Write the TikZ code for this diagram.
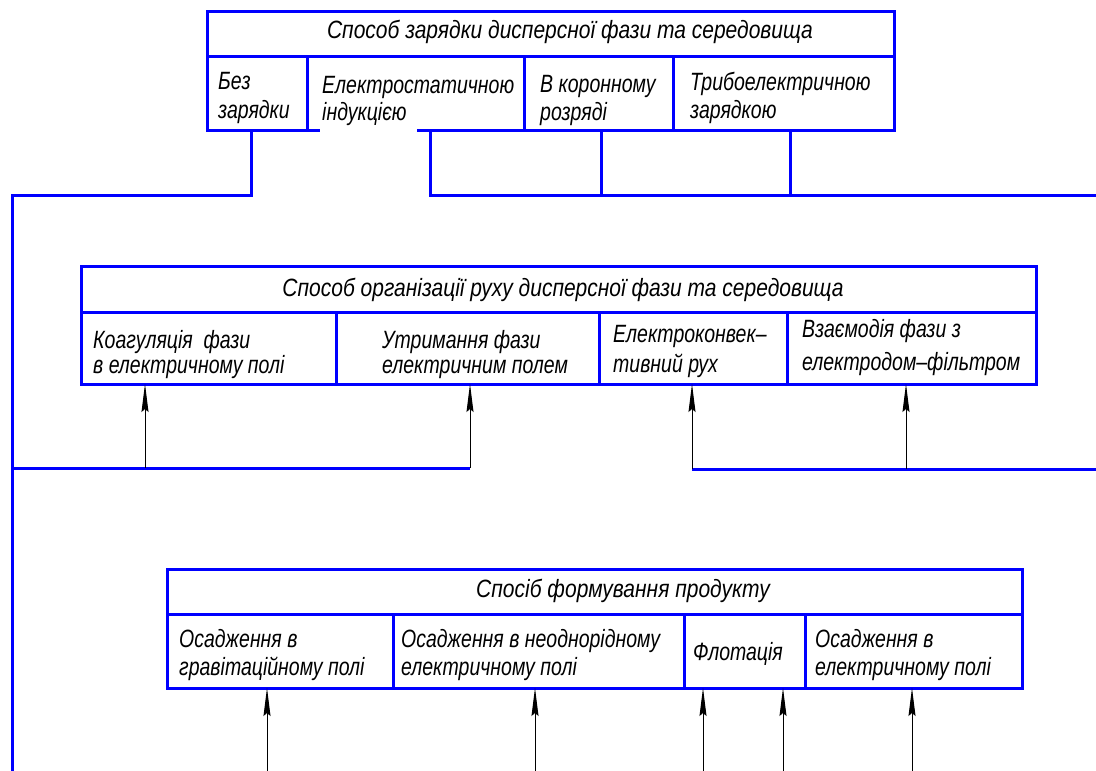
\documentclass[tikz,border=0pt]{standalone}
\usepackage{fontspec}
\setmainfont{Liberation Sans}[FakeStretch=0.78]
\newfontfamily\hdrfont{Liberation Sans}[FakeStretch=0.84]
\usetikzlibrary{arrows.meta}
\begin{document}
\begin{tikzpicture}[x=1pt,y=-1pt,
  box/.style={draw=blue, line width=3pt, rectangle, outer sep=0pt, inner sep=0pt, anchor=north west},
  bus/.style={draw=blue, line width=3pt},
  arr/.style={draw=black, line width=1pt, -{Stealth[length=28pt,width=7pt,inset=3pt]}},
  lbl/.style={anchor=base west, inner sep=0pt, font=\fontsize{25}{29}\selectfont\itshape},
  ttl/.style={anchor=base, inner sep=0pt, font=\hdrfont\fontsize{25}{29}\selectfont\itshape}]
\useasboundingbox (0,0) rectangle (1096,771);

% ---------- top block ----------
\node[box, minimum width=687pt, minimum height=45pt] (th) at (207,11) {};
\node[box, minimum width=100pt, minimum height=74pt] (t1) at (207,56) {};
\node[box, minimum width=217pt, minimum height=74pt] (t2) at (307,56) {};
\node[box, minimum width=149pt, minimum height=74pt] (t3) at (524,56) {};
\node[box, minimum width=221pt, minimum height=74pt] (t4) at (673,56) {};
\fill[white] (320,127) rectangle (417,133);

\node[ttl] (tht) at (570,38) {Способ зарядки дисперсної фази та середовища};
\node[lbl] (t1a) at (218,89) {Без};
\node[lbl] (t1b) at (218,118) {зарядки};
\node[lbl] (t2a) at (322,93) {Електростатичною};
\node[lbl] (t2b) at (322,120) {індукцією};
\node[lbl] (t3a) at (540,92) {В коронному};
\node[lbl] (t3b) at (540,120) {розряді};
\node[lbl] (t4a) at (690,90) {Трибоелектричною};
\node[lbl] (t4b) at (690,118) {зарядкою};

% ---------- middle block ----------
\node[box, minimum width=955pt, minimum height=46pt] (mh) at (81,266) {};
\node[box, minimum width=255pt, minimum height=72pt] (m1) at (81,312) {};
\node[box, minimum width=263pt, minimum height=72pt] (m2) at (336,312) {};
\node[box, minimum width=188pt, minimum height=72pt] (m3) at (599,312) {};
\node[box, minimum width=249pt, minimum height=72pt] (m4) at (787,312) {};

\node[ttl] (mht) at (563,296) {Способ організації руху дисперсної фази та середовища};
\node[lbl] (m1a) at (93,348) {Коагуляція\ \ фази};
\node[lbl] (m1b) at (93,373) {в електричному полі};
\node[lbl] (m2a) at (382,348) {Утримання фази};
\node[lbl] (m2b) at (382,373) {електричним полем};
\node[lbl] (m3a) at (613,342) {Електроконвек–};
\node[lbl] (m3b) at (613,372) {тивний рух};
\node[lbl] (m4a) at (802,337) {Взаємодія фази з};
\node[lbl] (m4b) at (802,370) {електродом–фільтром};

% ---------- bottom block ----------
\node[box, minimum width=855pt, minimum height=45pt] (bh) at (167,569) {};
\node[box, minimum width=226pt, minimum height=74pt] (b1) at (167,614) {};
\node[box, minimum width=291pt, minimum height=74pt] (b2) at (393,614) {};
\node[box, minimum width=121pt, minimum height=74pt] (b3) at (684,614) {};
\node[box, minimum width=217pt, minimum height=74pt] (b4) at (805,614) {};

\node[ttl] (bht) at (623,597) {Спосіб формування продукту};
\node[lbl] (b1a) at (179,647) {Осадження в};
\node[lbl] (b1b) at (179,675) {гравітаційному полі};
\node[lbl] (b2a) at (401,647) {Осадження в неоднорідному};
\node[lbl] (b2b) at (401,675) {електричному полі};
\node[lbl] (b3a) at (693,660) {Флотація};
\node[lbl] (b4a) at (815,647) {Осадження в};
\node[lbl] (b4b) at (815,675) {електричному полі};

% ---------- buses ----------
\coordinate (c1) at (251,195);
\coordinate (c2) at (430,195);
\coordinate (c3) at (601,195);
\coordinate (c4) at (790,195);
\coordinate (rtop) at (1096,195);
\coordinate (lbot) at (12,771);
\coordinate (k1) at (12,468);
\coordinate (a1) at (145,468);
\coordinate (a2) at (470,468);
\coordinate (a3) at (692,469);
\coordinate (a4) at (906,469);
\coordinate (rmid) at (1096,469);

\draw[bus] (t1.south -| c1) -- (c1) -| (lbot);
\draw[bus] (t2.south -| c2) -- (c2) -- (rtop);
\draw[bus] (t3.south -| c3) -- (c3);
\draw[bus] (t4.south -| c4) -- (c4);
\draw[bus] (k1) -- (a2);
\draw[bus] (a3) -- (rmid);

% ---------- arrows ----------
\draw[arr] (a1) -- (m1.south -| a1);
\draw[arr] (a2) -- (m2.south -| a2);
\draw[arr] (a3) -- (m3.south -| a3);
\draw[arr] (a4) -- (m4.south -| a4);

\coordinate (e1) at (267,771);
\coordinate (e2) at (535,771);
\coordinate (e3) at (703,771);
\coordinate (e4) at (783,771);
\coordinate (e5) at (912,771);
\draw[arr] (e1) -- (b1.south -| e1);
\draw[arr] (e2) -- (b2.south -| e2);
\draw[arr] (e3) -- (b3.south -| e3);
\draw[arr] (e4) -- (b3.south -| e4);
\draw[arr] (e5) -- (b4.south -| e5);
\end{tikzpicture}
\end{document}
